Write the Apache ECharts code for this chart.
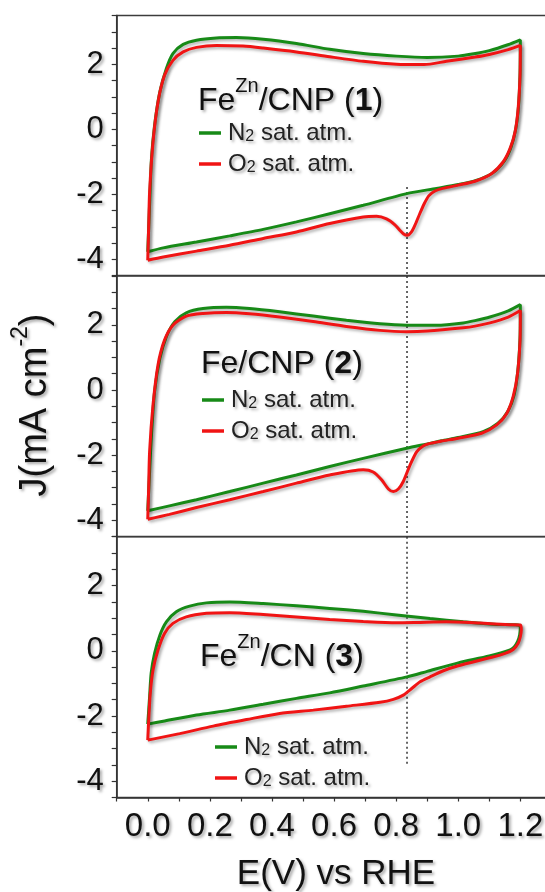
<!DOCTYPE html>
<html>
<head>
<meta charset="utf-8">
<script src="https://cdn.jsdelivr.net/npm/echarts@6/dist/echarts.min.js"></script>
<style>
html,body{margin:0;padding:0;background:#fff;}
#cvChart{width:545px;height:892px;}
</style>
</head>
<body>
<div id="cvChart"></div>
<script>
// cyclic voltammograms, E (V vs RHE) / J (mA cm-2)
var seriesNames = ['N\u2082 sat. atm.', 'O\u2082 sat. atm.'];

var p1N2 = [
	[0.000,-3.77],[0.006,-2.30],[0.012,-0.90],[0.022,0.12],[0.039,1.15],[0.060,1.87],[0.081,2.33],[0.114,2.61],
	[0.157,2.74],[0.221,2.81],[0.286,2.82],[0.372,2.77],[0.479,2.64],[0.586,2.46],[0.694,2.33],[0.801,2.25],
	[0.900,2.21],[1.000,2.25],[1.050,2.32],[1.100,2.42],[1.160,2.60],[1.200,2.75],
	[1.199,1.70],[1.194,0.70],[1.185,0.00],[1.170,-0.55],[1.148,-0.98],[1.110,-1.35],[1.055,-1.58],[1.000,-1.70],
	[0.930,-1.82],[0.834,-1.98],[0.694,-2.34],[0.586,-2.60],[0.479,-2.85],[0.372,-3.08],[0.264,-3.28],
	[0.157,-3.47],[0.050,-3.65],[0.000,-3.77]
];
var p1O2 = [
	[0.000,-4.03],[0.003,-3.00],[0.006,-1.93],[0.017,-0.39],[0.033,0.84],[0.054,1.66],[0.081,2.12],[0.114,2.38],
	[0.157,2.52],[0.221,2.58],[0.307,2.56],[0.372,2.50],[0.479,2.38],[0.586,2.23],[0.694,2.09],[0.801,2.00],
	[0.890,1.99],[0.962,2.09],[1.054,2.22],[1.100,2.30],[1.161,2.45],[1.200,2.58],
	[1.199,1.66],[1.193,0.64],[1.183,-0.08],[1.167,-0.59],[1.145,-1.00],[1.108,-1.36],[1.054,-1.60],[1.000,-1.72],
	[0.950,-1.82],[0.925,-1.90],[0.905,-2.05],[0.890,-2.30],[0.876,-2.60],[0.862,-2.92],[0.850,-3.15],
	[0.836,-3.26],[0.824,-3.22],[0.811,-3.10],[0.796,-2.94],[0.769,-2.76],[0.737,-2.68],[0.694,-2.70],
	[0.586,-2.90],[0.479,-3.16],[0.372,-3.36],[0.264,-3.57],[0.157,-3.75],[0.050,-3.93],[0.000,-4.03]
];
var p2N2 = [
	[0.000,-3.71],[0.006,-2.50],[0.012,-1.38],[0.022,-0.05],[0.039,0.97],[0.060,1.64],[0.087,2.10],[0.124,2.37],
	[0.178,2.50],[0.253,2.54],[0.328,2.50],[0.425,2.40],[0.533,2.27],[0.640,2.14],[0.748,2.03],[0.834,1.99],
	[0.930,1.99],[1.016,2.06],[1.054,2.13],[1.102,2.24],[1.161,2.43],[1.200,2.62],
	[1.199,1.60],[1.192,0.60],[1.180,-0.15],[1.160,-0.65],[1.128,-1.02],[1.080,-1.28],[1.000,-1.46],[0.946,-1.56],
	[0.909,-1.64],[0.834,-1.79],[0.694,-2.10],[0.586,-2.35],[0.479,-2.61],[0.372,-2.86],[0.264,-3.12],
	[0.157,-3.37],[0.070,-3.56],[0.000,-3.71]
];
var p2O2 = [
	[0.000,-3.97],[0.003,-3.00],[0.006,-1.89],[0.017,-0.46],[0.033,0.77],[0.054,1.53],[0.081,1.99],[0.124,2.27],
	[0.178,2.35],[0.253,2.38],[0.328,2.34],[0.425,2.24],[0.533,2.10],[0.640,1.95],[0.748,1.83],[0.834,1.79],
	[0.900,1.81],[1.016,1.91],[1.054,1.96],[1.102,2.06],[1.161,2.24],[1.200,2.44],
	[1.199,1.53],[1.191,0.51],[1.177,-0.20],[1.156,-0.72],[1.124,-1.07],[1.075,-1.33],[1.000,-1.48],[0.946,-1.57],
	[0.909,-1.64],[0.887,-1.72],[0.866,-1.90],[0.845,-2.30],[0.823,-2.81],[0.807,-3.04],[0.791,-3.12],
	[0.775,-3.04],[0.753,-2.76],[0.726,-2.52],[0.694,-2.45],[0.586,-2.61],[0.479,-2.86],[0.372,-3.12],
	[0.264,-3.37],[0.157,-3.61],[0.070,-3.82],[0.000,-3.97]
];
var p3N2 = [
	[0.000,-2.25],[0.006,-1.41],[0.011,-0.69],[0.022,-0.08],[0.039,0.48],[0.060,0.89],[0.092,1.20],[0.135,1.37],
	[0.189,1.47],[0.264,1.50],[0.372,1.45],[0.479,1.38],[0.586,1.30],[0.694,1.21],[0.801,1.10],[0.909,0.99],
	[1.016,0.89],[1.124,0.81],[1.200,0.77],
	[1.198,0.50],[1.191,0.28],[1.180,0.12],[1.167,0.03],[1.100,-0.16],[1.000,-0.37],[0.900,-0.63],[0.835,-0.80],
	[0.694,-1.08],[0.586,-1.29],[0.479,-1.46],[0.372,-1.64],[0.264,-1.82],[0.157,-1.97],[0.050,-2.16],[0.000,-2.25]
];
var p3O2 = [
	[0.000,-2.74],[0.003,-2.13],[0.008,-1.31],[0.017,-0.59],[0.033,0.02],[0.054,0.53],[0.081,0.84],[0.124,1.04],
	[0.189,1.15],[0.264,1.17],[0.372,1.11],[0.479,1.04],[0.586,0.96],[0.694,0.90],[0.801,0.86],[0.866,0.87],
	[0.962,0.89],[1.070,0.85],[1.167,0.80],[1.200,0.79],
	[1.203,0.64],[1.200,0.43],[1.193,0.23],[1.177,0.04],[1.151,-0.08],[1.108,-0.20],[1.000,-0.46],[0.950,-0.62],
	[0.909,-0.80],[0.877,-0.95],[0.851,-1.15],[0.823,-1.36],[0.791,-1.49],[0.748,-1.58],[0.640,-1.70],
	[0.533,-1.82],[0.425,-1.92],[0.318,-2.11],[0.211,-2.31],[0.103,-2.54],[0.000,-2.74]
];
var panelData = [[p1N2, p1O2], [p2N2, p2O2], [p3N2, p3O2]];

// dotted guide line at the ORR peak potential
var dotE = 0.835;
var dotRanges = [[-1.78, -4.5], [3.5, -4.5], [3.5, -3.5]];

var panelNames = [
	'{n|Fe}{s|Zn}{n|/CNP (}{b|1}{n|)}',
	'{n|Fe/CNP (}{b|2}{n|)}',
	'{n|Fe}{s|Zn}{n|/CN (}{b|3}{n|)}'
];
var xTitle = 'E(V) vs RHE';
var yTitle = '{n|J(mA cm}{s|-2}{n|)}';

var font = 'Liberation Sans, Arial, Helvetica, sans-serif';
var colors = ['#178a17', '#f01414'];
var txtShadow = {textShadowColor: 'rgba(0,0,0,0.35)', textShadowBlur: 3, textShadowOffsetX: 2, textShadowOffsetY: 2};

var grids = [
	{top: 15.5, height: 260},
	{top: 276, height: 260.5},
	{top: 536.7, height: 260.8}
];
var legendPos = [
	{left: 199, top: 121},
	{left: 202, top: 388},
	{left: 215, top: 735}
];
var labelPos = [
	{x: 198, y: 101},
	{x: 201, y: 364},
	{x: 200, y: 657}
];

function ext(a, b) {
	var o = {};
	for (var k in a) o[k] = a[k];
	for (var k2 in b) o[k2] = b[k2];
	return o;
}

var option = {
	backgroundColor: '#fff',
	animation: false,
	grid: [],
	xAxis: [],
	yAxis: [],
	legend: [],
	series: [],
	graphic: []
};

for (var i = 0; i < 3; i++) {
	option.grid.push({
		left: 116.7, width: 434.7, top: grids[i].top, height: grids[i].height,
		show: true, borderColor: '#3c3c3c', borderWidth: 1.5, backgroundColor: 'transparent',
		outerBoundsMode: 'none', containLabel: false
	});
	var last = (i === 2);
	option.xAxis.push({
		type: 'value', gridIndex: i, min: -0.1, max: 1.3, interval: 0.1,
		axisLine: {show: last, onZero: false, lineStyle: {color: '#333', width: 1.5}},
		axisTick: {show: last, inside: false, length: 4, lineStyle: {color: '#333', width: 1.2}},
		axisLabel: {
			show: last, margin: 13, fontSize: 33, fontFamily: font, color: '#111',
			textShadowColor: txtShadow.textShadowColor, textShadowBlur: 3, textShadowOffsetX: 2, textShadowOffsetY: 2,
			formatter: function(v) {
				var t = Math.round(v * 10);
				return (t >= 0 && t <= 12 && t % 2 === 0) ? (t / 10).toFixed(1) : '';
			}
		},
		splitLine: {show: false}
	});
	option.yAxis.push({
		type: 'value', gridIndex: i, min: -4.5, max: 3.5, interval: 0.5,
		axisLine: {show: true, onZero: false, lineStyle: {color: '#333', width: 1.5}},
		axisTick: {show: true, inside: false, length: 5, lineStyle: {color: '#333', width: 1.2}},
		axisLabel: {
			margin: 13, fontSize: 31, fontFamily: font, color: '#111',
			textShadowColor: txtShadow.textShadowColor, textShadowBlur: 3, textShadowOffsetX: 2, textShadowOffsetY: 2,
			formatter: function(v) {
				var t = Math.round(v * 2);
				return (t % 4 === 0 && t >= -8 && t <= 4) ? String(t / 2) : '';
			}
		},
		splitLine: {show: false}
	});
	option.legend.push({
		orient: 'vertical', left: legendPos[i].left, top: legendPos[i].top,
		icon: 'rect', itemWidth: 22, itemHeight: 3.5, itemGap: 7, padding: 0,
		selectedMode: false, data: seriesNames,
		formatter: function(name) {
			var parts = name.split('\u2082');
			return '{t|' + parts[0] + '}{sub|2}{t|' + parts[1] + '}';
		},
		textStyle: ext({
			fontSize: 24, fontFamily: font, color: '#222', padding: [0, 0, 0, 2],
			rich: {
				t: ext({fontSize: 24, fontFamily: font, color: '#222', lineHeight: 24}, txtShadow),
				sub: ext({fontSize: 16, fontFamily: font, color: '#222', lineHeight: 16, verticalAlign: 'bottom'}, txtShadow)
			}
		}, txtShadow)
	});
	for (var s = 0; s < 2; s++) {
		option.series.push({
			type: 'line', name: seriesNames[s], xAxisIndex: i, yAxisIndex: i,
			data: panelData[i][s], showSymbol: false, symbol: 'none', smooth: 0.25, silent: true,
			itemStyle: {color: colors[s]},
			lineStyle: {color: colors[s], width: 3, shadowColor: 'rgba(0,0,0,0.3)', shadowBlur: 3, shadowOffsetX: 2, shadowOffsetY: 2},
			z: 3 + s
		});
	}
	option.series.push({
		type: 'line', name: 'guide', xAxisIndex: i, yAxisIndex: i,
		data: [[dotE, dotRanges[i][0]], [dotE, dotRanges[i][1]]],
		symbol: 'none', silent: true, legendHoverLink: false,
		lineStyle: {color: '#333', width: 1.5, type: [2, 3]},
		z: 2
	});
	option.graphic.push({
		type: 'text', x: labelPos[i].x, y: labelPos[i].y, silent: true,
		style: {
			text: panelNames[i], align: 'left', verticalAlign: 'middle',
			rich: {
				n: ext({fontSize: 32, fontFamily: font, fill: '#111', lineHeight: 50}, txtShadow),
				b: ext({fontSize: 32, fontFamily: font, fontWeight: 'bold', fill: '#111', lineHeight: 50}, txtShadow),
				s: ext({fontSize: 20, fontFamily: font, fill: '#111', lineHeight: 20, verticalAlign: 'top'}, txtShadow)
			}
		}
	});
}

option.graphic.push({
	type: 'text', x: 336, y: 874, silent: true,
	style: ext({text: xTitle, align: 'center', verticalAlign: 'middle', fontSize: 35, fontFamily: font, fill: '#111'}, txtShadow)
});
option.graphic.push({
	type: 'text', x: 36, y: 405, rotation: Math.PI / 2, silent: true,
	style: {
		text: yTitle, align: 'center', verticalAlign: 'middle',
		rich: {
			n: ext({fontSize: 38, fontFamily: font, fill: '#111', lineHeight: 54}, txtShadow),
			s: ext({fontSize: 23, fontFamily: font, fill: '#111', lineHeight: 23, verticalAlign: 'top'}, txtShadow)
		}
	}
});

var byId = function(id) {
	return document.getElementById(id);
};
var cvChart = echarts.init(byId('cvChart'), null, {renderer: 'canvas'});
cvChart.setOption(option);
</script>
</body>
</html>
